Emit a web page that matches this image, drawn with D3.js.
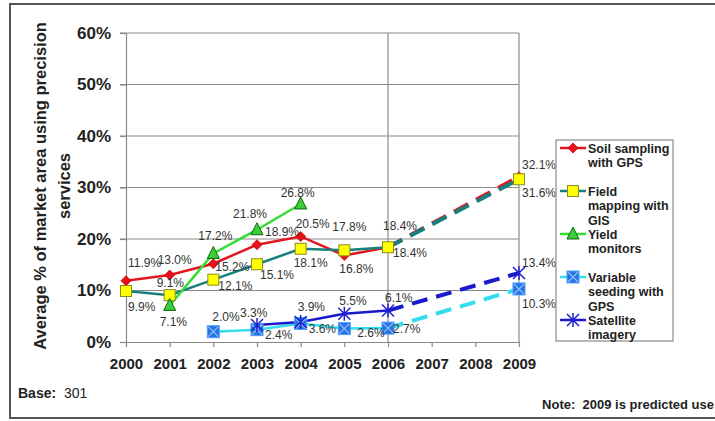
<!DOCTYPE html>
<html>
<head>
<meta charset="utf-8">
<script src="https://cdn.jsdelivr.net/npm/d3@7"></script>
<style>
  body { margin: 0; background: #fff; }
  svg { font-family: "Liberation Sans", Arial, sans-serif; }
</style>
</head>
<body>
<div id="chart"></div>
<script>
// Chart data
var years = ["2000", "2001", "2002", "2003", "2004", "2005", "2006", "2007", "2008", "2009"];
var yTicks = [0, 10, 20, 30, 40, 50, 60];

var soilSampling     = [11.9, 13.0, 15.2, 18.9, 20.5, 16.8, 18.4, null, null, 32.1];
var fieldMapping     = [9.9, 9.1, 12.1, 15.1, 18.1, 17.8, 18.4, null, null, 31.6];
var yieldMonitors    = [null, 7.1, 17.2, 21.8, 26.8, null, null, null, null, null];
var variableSeeding  = [null, null, 2.0, 2.4, 3.6, 2.6, 2.7, null, null, 10.3];
var satelliteImagery = [null, null, null, 3.3, 3.9, 5.5, 6.1, null, null, 13.4];

var seriesNames = ["Soil sampling with GPS", "Field mapping with GIS", "Yield monitors",
  "Variable seeding with GPS", "Satellite imagery"];
var legendLines = [["Soil sampling", "with GPS"], ["Field", "mapping with", "GIS"],
  ["Yield", "monitors"], ["Variable", "seeding with", "GPS"], ["Satellite", "imagery"]];

// label placement [dx, dy] relative to the point (left edge of text, vertical centre)
var soilLabelPos  = [[2, -18], [-12, -15], [2, 3], [8, -13], [-5, -12], [-5, 14], [-5, -21], null, null, [3, -12]];
var fieldLabelPos = [[2, 16], [-13, -12], [5, 6], [3, 11], [-7, 14], [-12, -23], [5, 6], null, null, [3, 14]];
var yieldLabelPos = [null, [-10, 17], [-15, -17], [-24, -16], [-20, -11], null, null, null, null, null];
var seedLabelPos  = [null, null, [-1, -15], [8, 5], [8, 6], [13, 4], [5, 1], null, null, [3, 15]];
var satLabelPos   = [null, null, null, [-17, -12], [-3, -15], [-5, -13], [-3, -13], null, null, [3, -10]];

var W = 715, H = 421;
var svg = d3.select("#chart").append("svg")
  .attr("width", W)
  .attr("height", H);

// outer frame
svg.append("rect")
  .attr("x", 10).attr("y", 4)
  .attr("width", 720).attr("height", 414)
  .attr("fill", "none")
  .attr("stroke", "#555")
  .attr("stroke-width", 2);

var x = d3.scalePoint().domain(years).range([126, 519]);
var y = d3.scaleLinear().domain([0, 60]).range([342, 33]);

// gridlines
svg.append("g").selectAll("line")
  .data(yTicks.filter(function(d) { return d > 0; }))
  .enter().append("line")
  .attr("x1", 120).attr("x2", 519)
  .attr("y1", function(d) { return y(d); })
  .attr("y2", function(d) { return y(d); })
  .attr("stroke", "#8a8a8a").attr("stroke-width", 1.2);

// vertical line at 2006 and right edge
[years[6], years[9]].forEach(function(yr) {
  svg.append("line")
    .attr("x1", x(yr)).attr("x2", x(yr))
    .attr("y1", y(60)).attr("y2", y(0))
    .attr("stroke", "#8a8a8a").attr("stroke-width", 1.2);
});

// y axis
var yAxis = d3.axisLeft(y)
  .tickValues(yTicks)
  .tickSize(6)
  .tickFormat(function(d) { return d + "%"; });
var gy = svg.append("g")
  .attr("transform", "translate(" + x(years[0]) + ",0)")
  .call(yAxis);
gy.select(".domain").attr("stroke", "#8a8a8a").attr("stroke-width", 1.2);
gy.selectAll(".tick line").attr("stroke", "#8a8a8a").attr("stroke-width", 1.2);
gy.selectAll(".tick text")
  .attr("x", -15)
  .attr("font-size", "17px")
  .attr("font-weight", "bold")
  .attr("font-family", "Liberation Sans, Arial, sans-serif")
  .attr("fill", "#222");

// x axis
var xAxis = d3.axisBottom(x).tickSize(5).tickSizeOuter(0);
var gx = svg.append("g")
  .attr("transform", "translate(0," + y(0) + ")")
  .call(xAxis);
gx.select(".domain").attr("stroke", "#8a8a8a").attr("stroke-width", 1.2);
gx.selectAll(".tick line").attr("stroke", "#8a8a8a").attr("stroke-width", 1.2);
gx.selectAll(".tick text")
  .attr("y", 16)
  .attr("font-size", "15px")
  .attr("font-weight", "bold")
  .attr("font-family", "Liberation Sans, Arial, sans-serif")
  .attr("fill", "#222");

// y axis title
var title = svg.append("text")
  .attr("transform", "translate(46,186) rotate(-90)")
  .attr("text-anchor", "middle")
  .attr("font-size", "16.5px")
  .attr("font-weight", "bold")
  .attr("fill", "#222");
title.append("tspan").attr("x", 0).attr("y", 0).text("Average % of market area using precision");
title.append("tspan").attr("x", 0).attr("y", 24).text("services");

// marker shapes
function drawMarker(g, kind, cx, cy) {
  if (kind === "diamond") {
    g.append("path")
      .attr("d", "M" + cx + "," + (cy - 5) + "L" + (cx + 5) + "," + cy + "L" + cx + "," + (cy + 5) + "L" + (cx - 5) + "," + cy + "Z")
      .attr("fill", "#e8111b").attr("stroke", "#c00").attr("stroke-width", 0.8);
  } else if (kind === "square") {
    g.append("rect")
      .attr("x", cx - 5.5).attr("y", cy - 5.5).attr("width", 11).attr("height", 11)
      .attr("fill", "#ffff00").attr("stroke", "#8c8c20").attr("stroke-width", 1);
  } else if (kind === "triangle") {
    g.append("path")
      .attr("d", "M" + cx + "," + (cy - 7) + "L" + (cx + 6) + "," + (cy + 5) + "L" + (cx - 6) + "," + (cy + 5) + "Z")
      .attr("fill", "#3ccc3c").attr("stroke", "#0a6a0a").attr("stroke-width", 1);
  } else if (kind === "xsquare") {
    g.append("rect")
      .attr("x", cx - 6).attr("y", cy - 6).attr("width", 12).attr("height", 12)
      .attr("fill", "#2f6fe0").attr("stroke", "#4aa0ff").attr("stroke-width", 1);
    g.append("path")
      .attr("d", "M" + (cx - 5) + "," + (cy - 5) + "L" + (cx + 5) + "," + (cy + 5) + "M" + (cx + 5) + "," + (cy - 5) + "L" + (cx - 5) + "," + (cy + 5))
      .attr("stroke", "#7fc8ff").attr("stroke-width", 1.2);
  } else if (kind === "star") {
    g.append("path")
      .attr("d", "M" + (cx - 6) + "," + (cy - 6) + "L" + (cx + 6) + "," + (cy + 6) + "M" + (cx + 6) + "," + (cy - 6) + "L" + (cx - 6) + "," + (cy + 6) + "M" + cx + "," + (cy - 7) + "L" + cx + "," + (cy + 7))
      .attr("stroke", "#2020d0").attr("stroke-width", 1.5);
  }
}

var series = [
  { values: soilSampling,     color: "#e2161e", marker: "diamond",  labels: soilLabelPos },
  { values: fieldMapping,     color: "#17807e", marker: "square",   labels: fieldLabelPos },
  { values: yieldMonitors,    color: "#33dd33", marker: "triangle", labels: yieldLabelPos },
  { values: variableSeeding,  color: "#33ddee", marker: "xsquare",  labels: seedLabelPos },
  { values: satelliteImagery, color: "#1a1acc", marker: "star",     labels: satLabelPos }
];

var solidLine = d3.line()
  .defined(function(d) { return d.v !== null; })
  .x(function(d) { return x(d.year); })
  .y(function(d) { return y(d.v); });

var lineLayer = svg.append("g");
var markerLayer = svg.append("g");
var labelLayer = svg.append("g");

series.forEach(function(s) {
  var pts = s.values.map(function(v, i) { return { year: years[i], v: v, i: i }; });
  var solidPts = pts.filter(function(d) { return d.i <= 6; });

  lineLayer.append("path")
    .datum(solidPts)
    .attr("d", solidLine)
    .attr("fill", "none")
    .attr("stroke", s.color)
    .attr("stroke-width", 2.5);

  // dashed projection 2006 -> 2009
  if (s.values[6] !== null && s.values[9] !== null) {
    lineLayer.append("path")
      .datum([pts[6], pts[9]])
      .attr("d", solidLine)
      .attr("fill", "none")
      .attr("stroke", s.color)
      .attr("stroke-width", 4)
      .attr("stroke-dasharray", "16,9");
  }

  var g = markerLayer.append("g");
  pts.forEach(function(d) {
    if (d.v === null) return;
    drawMarker(g, s.marker, x(d.year), y(d.v));
    var off = s.labels[d.i];
    labelLayer.append("text")
      .attr("x", x(d.year) + off[0])
      .attr("y", y(d.v) + off[1] + 4)
      .attr("font-size", "12px")
      .attr("fill", "#333")
      .text(d3.format(".1f")(d.v) + "%");
  });
});

// legend
var legend = svg.append("g");
legend.append("rect")
  .attr("x", 556).attr("y", 140)
  .attr("width", 117).attr("height", 201)
  .attr("fill", "#fff")
  .attr("stroke", "#8a8a8a").attr("stroke-width", 1.2);

series.forEach(function(s, i) {
  var ly = 148 + i * 43;
  legend.append("line")
    .attr("x1", 560).attr("x2", 586)
    .attr("y1", ly).attr("y2", ly)
    .attr("stroke", s.color).attr("stroke-width", 2.5);
  drawMarker(legend, s.marker, 573, ly);
  var t = legend.append("text")
    .attr("font-size", "12.5px")
    .attr("font-weight", "bold")
    .attr("fill", "#222");
  legendLines[i].forEach(function(line, k) {
    t.append("tspan").attr("x", 588).attr("y", ly + 4.5 + k * 14.5).text(line);
  });
});

// footer notes
var base = svg.append("text")
  .attr("x", 18).attr("y", 398)
  .attr("font-size", "14px")
  .attr("fill", "#222");
base.append("tspan").attr("font-weight", "bold").text("Base:");
base.append("tspan").text("\u00a0 301");

svg.append("text")
  .attr("x", 714).attr("y", 409)
  .attr("text-anchor", "end")
  .attr("font-size", "13px")
  .attr("font-weight", "bold")
  .attr("fill", "#222")
  .text("Note:\u00a0 2009 is predicted use");
</script>
</body>
</html>
